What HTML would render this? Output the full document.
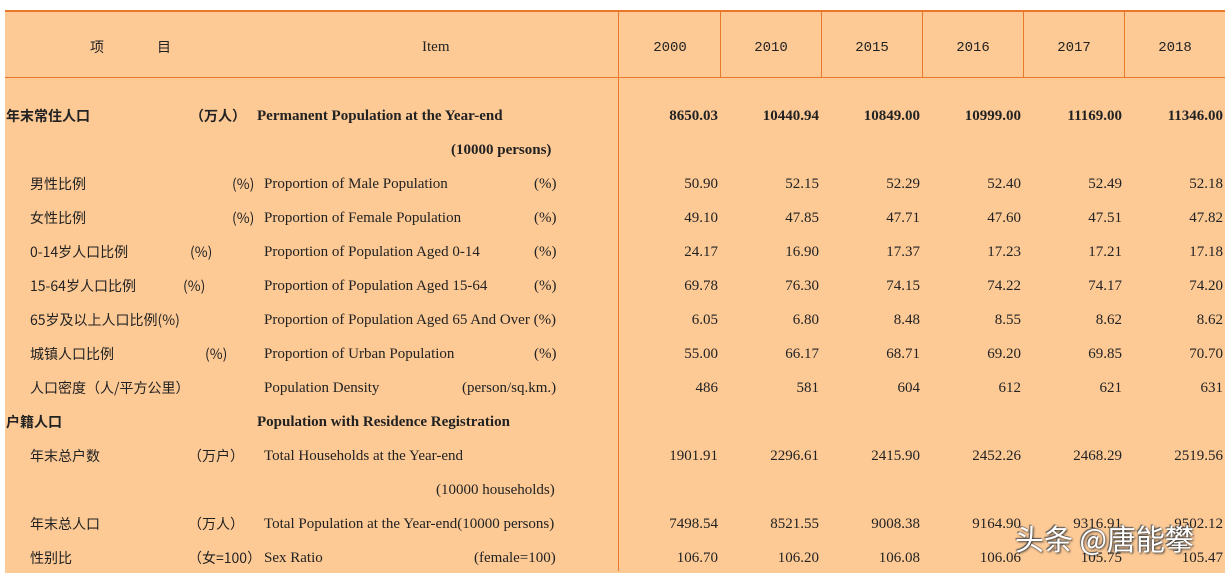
<!DOCTYPE html>
<html><head><meta charset="utf-8"><style>
body{margin:0;width:1229px;height:571px;background:#fff;overflow:hidden;position:relative;font-family:"Liberation Serif","Noto Serif CJK SC",serif;font-size:15px;color:#222}
#bg{position:absolute;left:5px;top:10px;width:1220px;height:561px;background:#fdca96;border-top:2px solid #e8782a}
.h{position:absolute;left:5px;top:77px;width:1220px;height:1px;background:#e8782a}
.v{position:absolute;top:10px;width:1px;background:#e8782a}
.t{position:absolute;line-height:18px;white-space:nowrap;margin-top:2px}
.c{font-family:"Noto Sans CJK SC","WenQuanYi Zen Hei",sans-serif;font-size:14px}
.b{font-weight:bold}
.n{text-align:right;width:90px}
.y{font-family:"Liberation Mono",monospace;font-size:14px;text-align:center;width:100px}
</style></head><body>
<div id="bg"></div>
<div class="h"></div>
<div class="v" style="left:618px;height:561px"></div>
<div class="v" style="left:720px;height:68px"></div>
<div class="v" style="left:821px;height:68px"></div>
<div class="v" style="left:922px;height:68px"></div>
<div class="v" style="left:1023px;height:68px"></div>
<div class="v" style="left:1124px;height:68px"></div>

<div class="t c" style="left:90px;top:36px">项</div>
<div class="t c" style="left:157px;top:36px">目</div>
<div class="t" style="left:422px;top:36px">Item</div>
<div class="t y" style="left:620px;top:37px">2000</div>
<div class="t y" style="left:721px;top:37px">2010</div>
<div class="t y" style="left:822px;top:37px">2015</div>
<div class="t y" style="left:923px;top:37px">2016</div>
<div class="t y" style="left:1024px;top:37px">2017</div>
<div class="t y" style="left:1125px;top:37px">2018</div>

<div class="t c b" style="left:6px;top:105px">年末常住人口</div>
<div class="t c b" style="left:190px;top:105px">（万人）</div>
<div class="t b" style="left:257px;top:105px">Permanent Population at the Year-end</div>
<div class="t b" style="left:451px;top:139px">(10000 persons)</div>

<div class="t c" style="left:30px;top:173px">男性比例</div>
<div class="t c" style="left:232px;top:173px">(%)</div>
<div class="t" style="left:264px;top:173px">Proportion of Male Population</div>
<div class="t" style="left:534px;top:173px">(%)</div>

<div class="t c" style="left:30px;top:207px">女性比例</div>
<div class="t c" style="left:232px;top:207px">(%)</div>
<div class="t" style="left:264px;top:207px">Proportion of Female Population</div>
<div class="t" style="left:534px;top:207px">(%)</div>

<div class="t c" style="left:30px;top:241px">0-14岁人口比例</div>
<div class="t c" style="left:190px;top:241px">(%)</div>
<div class="t" style="left:264px;top:241px">Proportion of Population Aged 0-14</div>
<div class="t" style="left:534px;top:241px">(%)</div>

<div class="t c" style="left:30px;top:275px">15-64岁人口比例</div>
<div class="t c" style="left:183px;top:275px">(%)</div>
<div class="t" style="left:264px;top:275px">Proportion of Population Aged 15-64</div>
<div class="t" style="left:534px;top:275px">(%)</div>

<div class="t c" style="left:30px;top:309px">65岁及以上人口比例(%)</div>
<div class="t" style="left:264px;top:309px">Proportion of Population Aged 65 And Over (%)</div>

<div class="t c" style="left:30px;top:343px">城镇人口比例</div>
<div class="t c" style="left:205px;top:343px">(%)</div>
<div class="t" style="left:264px;top:343px">Proportion of Urban Population</div>
<div class="t" style="left:534px;top:343px">(%)</div>

<div class="t c" style="left:30px;top:377px">人口密度（人/平方公里）</div>
<div class="t" style="left:264px;top:377px">Population Density</div>
<div class="t" style="left:462px;top:377px">(person/sq.km.)</div>

<div class="t c b" style="left:6px;top:411px">户籍人口</div>
<div class="t b" style="left:257px;top:411px">Population with Residence Registration</div>

<div class="t c" style="left:30px;top:445px">年末总户数</div>
<div class="t c" style="left:188px;top:445px">（万户）</div>
<div class="t" style="left:264px;top:445px">Total Households at the Year-end</div>
<div class="t" style="left:436px;top:479px">(10000 households)</div>

<div class="t c" style="left:30px;top:513px">年末总人口</div>
<div class="t c" style="left:188px;top:513px">（万人）</div>
<div class="t" style="left:264px;top:513px">Total Population at the Year-end(10000 persons)</div>

<div class="t c" style="left:30px;top:547px">性别比</div>
<div class="t c" style="left:188px;top:547px">（女=100）</div>
<div class="t" style="left:264px;top:547px">Sex Ratio</div>
<div class="t" style="left:474px;top:547px">(female=100)</div>

<div class="t n b" style="left:628px;top:105px">8650.03</div><div class="t n b" style="left:729px;top:105px">10440.94</div><div class="t n b" style="left:830px;top:105px">10849.00</div><div class="t n b" style="left:931px;top:105px">10999.00</div><div class="t n b" style="left:1032px;top:105px">11169.00</div><div class="t n b" style="left:1133px;top:105px">11346.00</div>
<div class="t n" style="left:628px;top:173px">50.90</div><div class="t n" style="left:729px;top:173px">52.15</div><div class="t n" style="left:830px;top:173px">52.29</div><div class="t n" style="left:931px;top:173px">52.40</div><div class="t n" style="left:1032px;top:173px">52.49</div><div class="t n" style="left:1133px;top:173px">52.18</div>
<div class="t n" style="left:628px;top:207px">49.10</div><div class="t n" style="left:729px;top:207px">47.85</div><div class="t n" style="left:830px;top:207px">47.71</div><div class="t n" style="left:931px;top:207px">47.60</div><div class="t n" style="left:1032px;top:207px">47.51</div><div class="t n" style="left:1133px;top:207px">47.82</div>
<div class="t n" style="left:628px;top:241px">24.17</div><div class="t n" style="left:729px;top:241px">16.90</div><div class="t n" style="left:830px;top:241px">17.37</div><div class="t n" style="left:931px;top:241px">17.23</div><div class="t n" style="left:1032px;top:241px">17.21</div><div class="t n" style="left:1133px;top:241px">17.18</div>
<div class="t n" style="left:628px;top:275px">69.78</div><div class="t n" style="left:729px;top:275px">76.30</div><div class="t n" style="left:830px;top:275px">74.15</div><div class="t n" style="left:931px;top:275px">74.22</div><div class="t n" style="left:1032px;top:275px">74.17</div><div class="t n" style="left:1133px;top:275px">74.20</div>
<div class="t n" style="left:628px;top:309px">6.05</div><div class="t n" style="left:729px;top:309px">6.80</div><div class="t n" style="left:830px;top:309px">8.48</div><div class="t n" style="left:931px;top:309px">8.55</div><div class="t n" style="left:1032px;top:309px">8.62</div><div class="t n" style="left:1133px;top:309px">8.62</div>
<div class="t n" style="left:628px;top:343px">55.00</div><div class="t n" style="left:729px;top:343px">66.17</div><div class="t n" style="left:830px;top:343px">68.71</div><div class="t n" style="left:931px;top:343px">69.20</div><div class="t n" style="left:1032px;top:343px">69.85</div><div class="t n" style="left:1133px;top:343px">70.70</div>
<div class="t n" style="left:628px;top:377px">486</div><div class="t n" style="left:729px;top:377px">581</div><div class="t n" style="left:830px;top:377px">604</div><div class="t n" style="left:931px;top:377px">612</div><div class="t n" style="left:1032px;top:377px">621</div><div class="t n" style="left:1133px;top:377px">631</div>
<div class="t n" style="left:628px;top:445px">1901.91</div><div class="t n" style="left:729px;top:445px">2296.61</div><div class="t n" style="left:830px;top:445px">2415.90</div><div class="t n" style="left:931px;top:445px">2452.26</div><div class="t n" style="left:1032px;top:445px">2468.29</div><div class="t n" style="left:1133px;top:445px">2519.56</div>
<div class="t n" style="left:628px;top:513px">7498.54</div><div class="t n" style="left:729px;top:513px">8521.55</div><div class="t n" style="left:830px;top:513px">9008.38</div><div class="t n" style="left:931px;top:513px">9164.90</div><div class="t n" style="left:1032px;top:513px">9316.91</div><div class="t n" style="left:1133px;top:513px">9502.12</div>
<div class="t n" style="left:628px;top:547px">106.70</div><div class="t n" style="left:729px;top:547px">106.20</div><div class="t n" style="left:830px;top:547px">106.08</div><div class="t n" style="left:931px;top:547px">106.06</div><div class="t n" style="left:1032px;top:547px">105.75</div><div class="t n" style="left:1133px;top:547px">105.47</div>

<div class="t c" style="left:1015px;top:518px;font-size:29px;line-height:36px;color:#fff;text-shadow:1px 1px 2px #333,-1px -1px 1px #555">头条 @唐能攀</div>
</body></html>
